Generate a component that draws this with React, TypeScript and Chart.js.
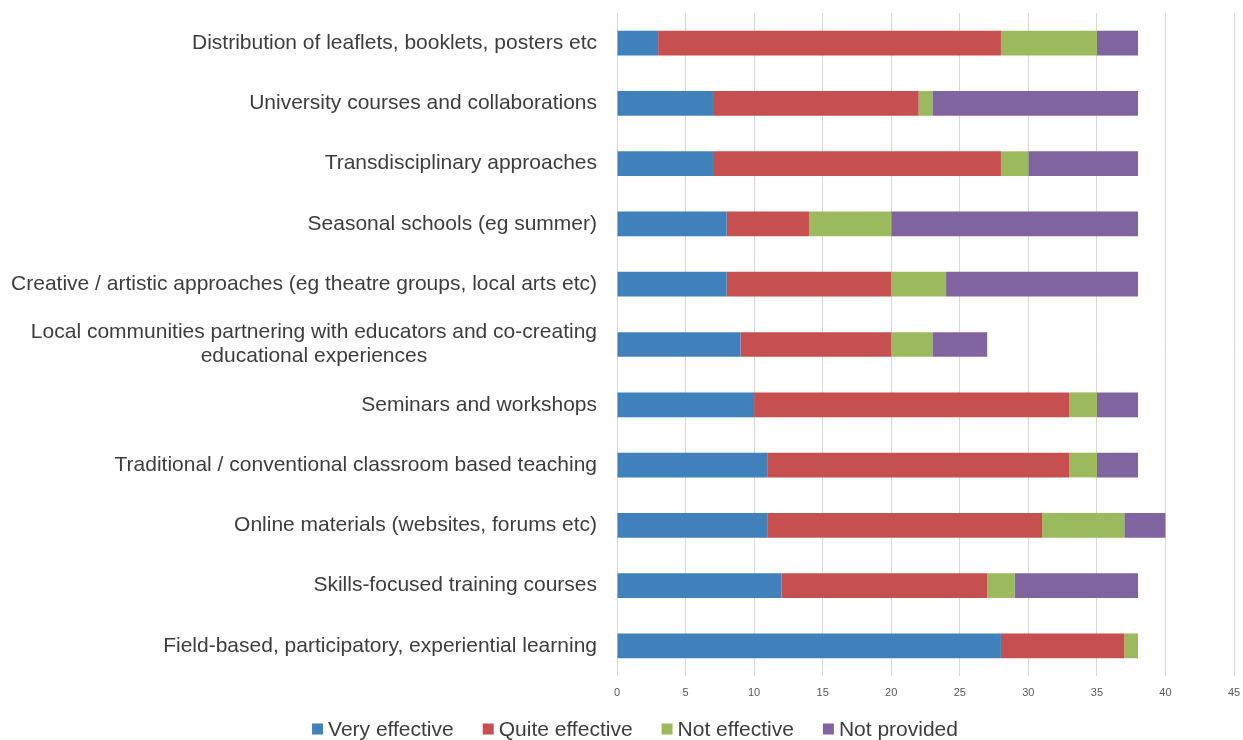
import React, { useEffect, useRef } from "react";
import { Chart, registerables } from "chart.js";

Chart.register(...registerables);

const categories: (string | string[])[] = [
  "Distribution of leaflets, booklets, posters etc",
  "University courses and collaborations",
  "Transdisciplinary approaches",
  "Seasonal schools (eg summer)",
  "Creative / artistic approaches (eg theatre groups, local arts etc)",
  ["Local communities partnering with educators and co-creating", "educational experiences"],
  "Seminars and workshops",
  "Traditional / conventional classroom based teaching",
  "Online materials (websites, forums etc)",
  "Skills-focused training courses",
  "Field-based, participatory, experiential learning",
];

const veryEffective = [3, 7, 7, 8, 8, 9, 10, 11, 11, 12, 28];
const quiteEffective = [25, 15, 21, 6, 12, 11, 23, 22, 20, 15, 9];
const notEffective = [7, 1, 2, 6, 4, 3, 2, 2, 6, 2, 1];
const notProvided = [3, 15, 8, 18, 14, 4, 3, 3, 3, 9, 0];

const seriesNames = ["Very effective", "Quite effective", "Not effective", "Not provided"];
const xTicks = [0, 5, 10, 15, 20, 25, 30, 35, 40, 45];

const COLORS = ["#4181BB", "#C64F4F", "#9BBA5D", "#7F64A0"];
const FONT = "'Liberation Sans', Arial, Helvetica, sans-serif";
const TEXT = "#3d3d3d";

const labelPlugin = {
  id: "customLabels",
  afterDraw(chart: any) {
    const ctx = chart.ctx;
    const yScale = chart.scales.y;
    ctx.save();
    ctx.font = `21px ${FONT}`;
    ctx.fillStyle = TEXT;
    ctx.textBaseline = "middle";
    const rightX = 597;
    const lineH = 24;
    categories.forEach((lab, i) => {
      const y = yScale.getPixelForTick(i);
      const lines = Array.isArray(lab) ? lab : [lab];
      if (lines.length === 1) {
        ctx.textAlign = "right";
        ctx.fillText(lines[0], rightX, y);
      } else {
        const maxW = Math.max(...lines.map((l) => ctx.measureText(l).width));
        const cx = rightX - maxW / 2;
        ctx.textAlign = "center";
        const startY = y - ((lines.length - 1) * lineH) / 2;
        lines.forEach((l, k) => ctx.fillText(l, cx, startY + k * lineH));
      }
    });

    // legend
    ctx.font = `21px ${FONT}`;
    ctx.textAlign = "left";
    const box = 11;
    const boxGap = 5;
    const itemGap = 29;
    const widths = chart.data.datasets.map(
      (d: any) => box + boxGap + ctx.measureText(d.label).width
    );
    const total = widths.reduce((a: number, b: number) => a + b, 0) + itemGap * (widths.length - 1);
    let x = 635 - total / 2;
    const ly = 729;
    chart.data.datasets.forEach((d: any, i: number) => {
      ctx.fillStyle = d.backgroundColor;
      ctx.fillRect(x, ly - box / 2, box, box);
      ctx.fillStyle = TEXT;
      ctx.fillText(d.label, x + box + boxGap, ly + 1);
      x += widths[i] + itemGap;
    });
    ctx.restore();
  },
};

export default function App() {
  const ref = useRef<HTMLCanvasElement | null>(null);
  useEffect(() => {
    document.body.style.margin = "0";
    const canvas = ref.current!;
    const seriesData = [veryEffective, quiteEffective, notEffective, notProvided];
    const chart = new Chart(canvas, {
      type: "bar",
      data: {
        labels: categories.map((c) => (Array.isArray(c) ? c.join(" ") : c)),
        datasets: seriesNames.map((name, i) => ({
          label: name,
          data: seriesData[i],
          backgroundColor: COLORS[i],
          borderWidth: 0,
          barPercentage: 0.41,
          categoryPercentage: 1,
        })),
      },
      options: {
        indexAxis: "y",
        responsive: false,
        animation: false,
        devicePixelRatio: 1,
        layout: { padding: { top: 13, right: 9, bottom: 40, left: 0 } },
        plugins: {
          legend: { display: false },
          tooltip: { enabled: false },
        },
        scales: {
          x: {
            stacked: true,
            min: 0,
            max: 45,
            afterBuildTicks: (s: any) => {
              s.ticks = xTicks.map((v) => ({ value: v }));
            },
            afterFit: (s: any) => {
              s.height = 24;
              s.paddingLeft = 0;
              s.paddingRight = 0;
            },
            grid: { color: "#d9d9d9", lineWidth: 1, drawTicks: false },
            border: { display: false },
            ticks: {
              padding: 10,
              maxRotation: 0,
              color: "#595959",
              font: { size: 11, family: FONT },
            },
          },
          y: {
            stacked: true,
            afterFit: (s: any) => {
              s.width = 617;
            },
            grid: { display: false },
            border: { display: false },
            ticks: { display: false },
          },
        },
      } as any,
      plugins: [labelPlugin],
    });
    return () => chart.destroy();
  }, []);
  return (
    <div style={{ width: 1243, height: 740, background: "#fff" }}>
      <canvas ref={ref} width={1243} height={740} />
    </div>
  );
}
